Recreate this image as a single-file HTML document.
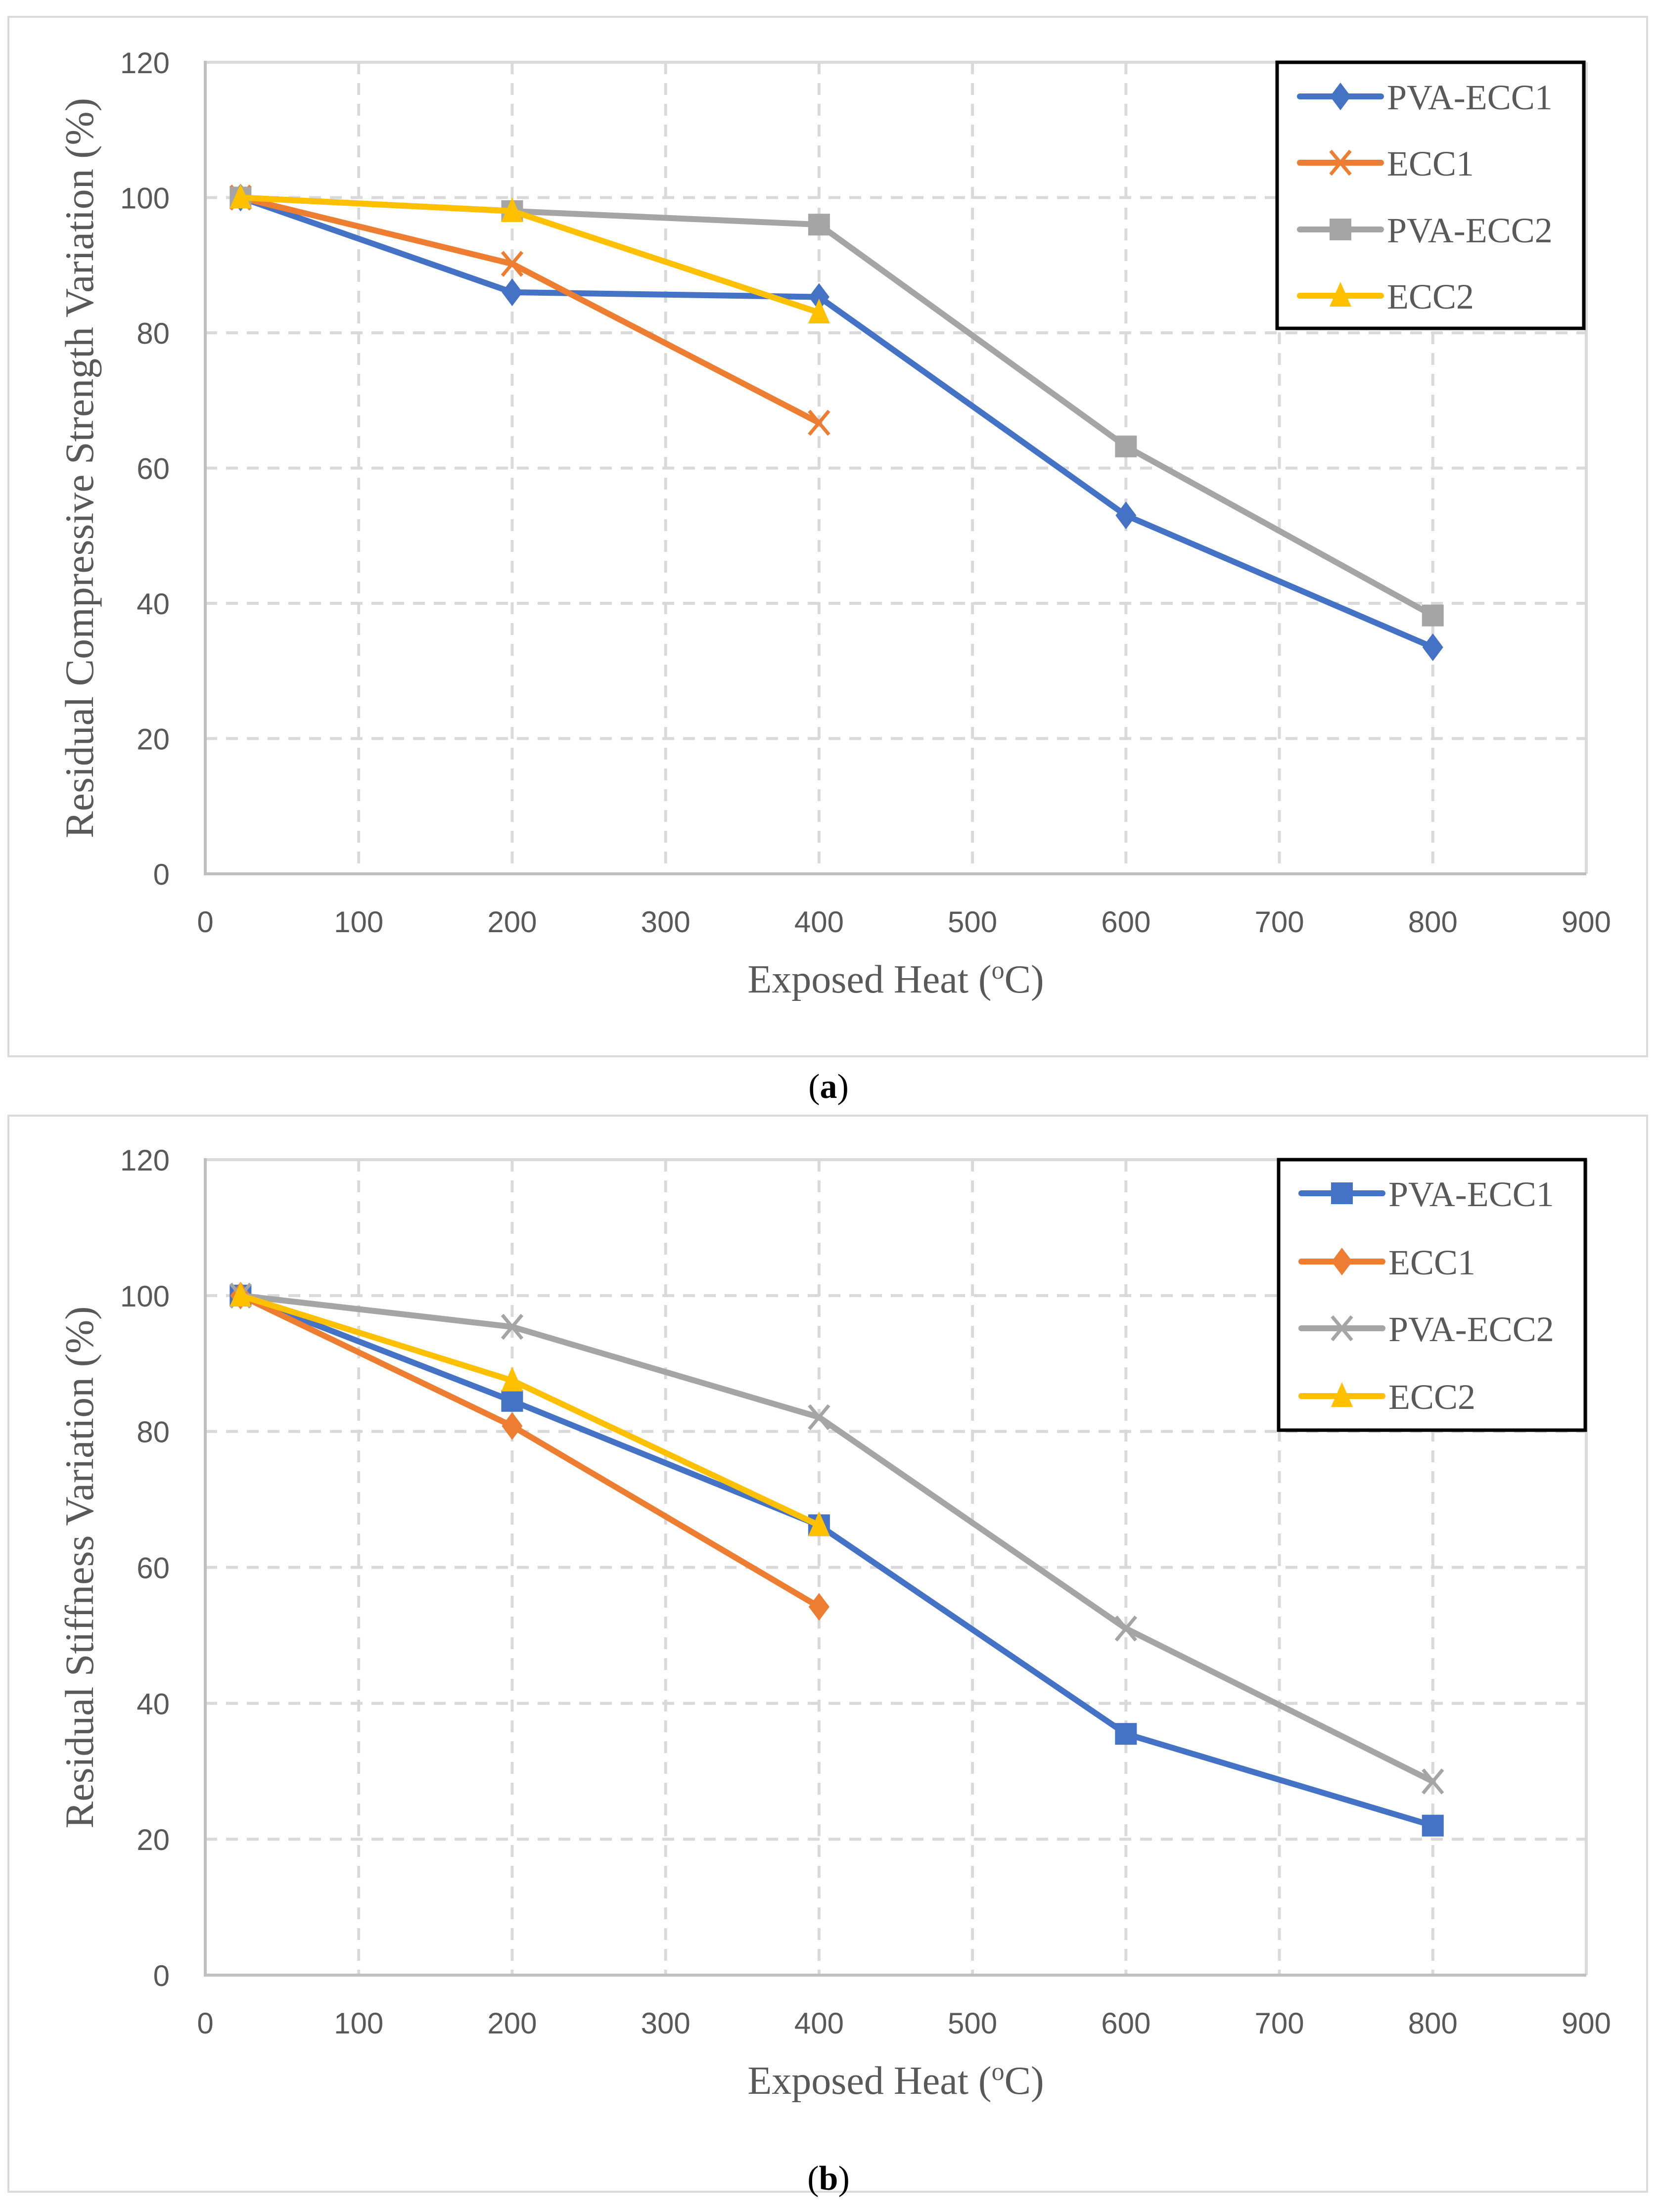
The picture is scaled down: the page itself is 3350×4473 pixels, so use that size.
<!DOCTYPE html>
<html><head><meta charset="utf-8">
<style>
html,body{margin:0;padding:0;background:#fff;}
svg{display:block;}
</style></head>
<body>
<svg id="chart" width="3350" height="4473" viewBox="0 0 3350 4473" xmlns="http://www.w3.org/2000/svg"></svg>
<script>
// ---- data ----
const xTicks = [0,100,200,300,400,500,600,700,800,900];
const yTicks = [0,20,40,60,80,100,120];
const seriesNames = ["PVA-ECC1","ECC1","PVA-ECC2","ECC2"];
const seriesColors = ["#4472c4","#ed7d31","#a5a5a5","#ffc000"];
const aX1 = [23,200,400,600,800];
const aPvaEcc1 = [100,86,85.3,53,33.5];
const aX2 = [23,200,400];
const aEcc1 = [100,90.2,66.7];
const aPvaEcc2 = [100,98,96,63.2,38.2];
const aEcc2 = [100,98,83];
const bPvaEcc1 = [100,84.5,66.2,35.5,22];
const bEcc1 = [100,80.8,54.2];
const bPvaEcc2 = [100,95.4,82.1,51,28.5];
const bEcc2 = [100,87.5,66.2];
const aMarkers = ["diamond","x","square","triangle"];
const bMarkers = ["square","diamond","x","triangle"];

const NS="http://www.w3.org/2000/svg";
const svg=document.getElementById('chart');
function mk(tag,attrs,parent){const e=document.createElementNS(NS,tag);for(const k in attrs)e.setAttribute(k,attrs[k]);(parent||svg).appendChild(e);return e;}

function marker(g,type,cx,cy,color){
  let e;
  if(type==="diamond"){e=mk('polygon',{points:`${cx},${cy-28} ${cx+21},${cy} ${cx},${cy+28} ${cx-21},${cy}`,fill:color},g);}
  else if(type==="square"){e=mk('rect',{x:cx-22,y:cy-22,width:44,height:44,fill:color},g);}
  else if(type==="triangle"){e=mk('polygon',{points:`${cx},${cy-28} ${cx+22},${cy+22} ${cx-22},${cy+22}`,fill:color},g);}
  else {e=mk('path',{d:`M${cx-20},${cy-24}L${cx+20},${cy+24}M${cx+20},${cy-24}L${cx-20},${cy+24}`,stroke:color,'stroke-width':7,fill:'none'},g);}
  return e;
}

function drawChart(cfg){
  const {box,L,R,T,B,title,xs,ys,markers,legend,letter,name}=cfg;
  const g=mk('g',{});
  
  
  const frame=mk('rect',{x:box[0],y:box[1],width:box[2]-box[0],height:box[3]-box[1],fill:'#fff',stroke:'#d9d9d9','stroke-width':4},g);
  
  
  const xS=v=>L+(v-0)/900*(R-L);
  const yS=v=>B-(v-0)/120*(B-T);
  xTicks.forEach(t=>{ if(t>0&&t<900){const l=mk('line',{x1:xS(t),x2:xS(t),y1:T,y2:B,stroke:'#d9d9d9','stroke-width':6,'stroke-dasharray':'24 18'},g);
    
    }});
  yTicks.forEach(t=>{ if(t>0&&t<120){const l=mk('line',{x1:L,x2:R,y1:yS(t),y2:yS(t),stroke:'#d9d9d9','stroke-width':6,'stroke-dasharray':'24 18'},g);
    
    }});
  mk('line',{x1:L,x2:R,y1:T,y2:T,stroke:'#d9d9d9','stroke-width':6},g);
  mk('line',{x1:R,x2:R,y1:T,y2:B,stroke:'#d9d9d9','stroke-width':6},g);
  const ya=mk('line',{x1:L,x2:L,y1:T-3,y2:B+3,stroke:'#bfbfbf','stroke-width':6},g);
  
  
  const xa=mk('line',{x1:L,x2:R,y1:B,y2:B,stroke:'#bfbfbf','stroke-width':6},g);
  
  
  yTicks.forEach(t=>{const tx=mk('text',{x:L-72,y:yS(t)+22,'text-anchor':'end','font-family':'Liberation Sans, sans-serif','font-size':60,fill:'#595959'},g);
    tx.textContent=t;
    
    });
  xTicks.forEach(t=>{const tx=mk('text',{x:xS(t),y:B+118,'text-anchor':'middle','font-family':'Liberation Sans, sans-serif','font-size':60,fill:'#595959'},g);
    tx.textContent=t;
    
    });
  const yt=mk('text',{x:0,y:0,transform:`translate(188,${(T+B)/2}) rotate(-90)`,'text-anchor':'middle','font-family':'Liberation Serif, serif','font-size':82,fill:'#595959'},g);
  yt.textContent=title;
  
  
  const xt=mk('text',{x:(L+R)/2,y:B+240,'text-anchor':'middle','font-family':'Liberation Serif, serif','font-size':80,fill:'#595959'},g);
  xt.innerHTML='Exposed Heat (<tspan dy="-28" font-size="52">o</tspan><tspan dy="28">C)</tspan>';
  
  
  ys.forEach((vals,i)=>{
    const xv=xs[i];
    const sg=mk('g',{},g);
    
    
    const pts=vals.map((v,j)=>xS(xv[j])+','+yS(v)).join(' ');
    mk('polyline',{points:pts,fill:'none',stroke:seriesColors[i],'stroke-width':12,'stroke-linejoin':'round','stroke-linecap':'round'},sg);
    vals.forEach((v,j)=>{const m=marker(sg,markers[i],xS(xv[j]),yS(v),seriesColors[i]);
      
      });
  });
  const lg=mk('g',{},g);
  
  
  mk('rect',{x:legend.x,y:legend.y,width:legend.w,height:legend.h,fill:'#fff',stroke:'#000','stroke-width':7},lg);
  seriesNames.forEach((n,i)=>{
    const cy=legend.rows[i];
    const eg=mk('g',{},lg);
    
    
    mk('line',{x1:legend.x+46,x2:legend.x+210,y1:cy,y2:cy,stroke:seriesColors[i],'stroke-width':12,'stroke-linecap':'round'},eg);
    marker(eg,markers[i],legend.x+128,cy,seriesColors[i]);
    const t=mk('text',{x:legend.x+222,y:cy+26,'font-family':'Liberation Serif, serif','font-size':72,fill:'#595959'},eg);
    t.textContent=n;
  });
  const lt=mk('text',{x:letter[0],y:letter[1],'text-anchor':'middle','font-family':'Liberation Serif, serif','font-size':70,fill:'#000'},g);
  lt.innerHTML='(<tspan font-weight="bold">'+cfg.letterChar+'</tspan>)';
  
  
}

drawChart({name:'chart-a',box:[17,34,3330,2136],L:415,R:3207,T:126,B:1767,
  title:'Residual Compressive Strength Variation (%)',
  xs:[aX1,aX2,aX1,aX2],ys:[aPvaEcc1,aEcc1,aPvaEcc2,aEcc2],markers:aMarkers,
  legend:{x:2582,y:126,w:620,h:538,rows:[195,329,464,598]},letter:[1675,2220],letterChar:'a'});
drawChart({name:'chart-b',box:[17,2256,3330,4432],L:415,R:3207,T:2345,B:3994,
  title:'Residual Stiffness Variation (%)',
  xs:[aX1,aX2,aX1,aX2],ys:[bPvaEcc1,bEcc1,bPvaEcc2,bEcc2],markers:bMarkers,
  legend:{x:2585,y:2345,w:620,h:547,rows:[2413,2551,2686,2823]},letter:[1675,4428],letterChar:'b'});
</script>
</body></html>
